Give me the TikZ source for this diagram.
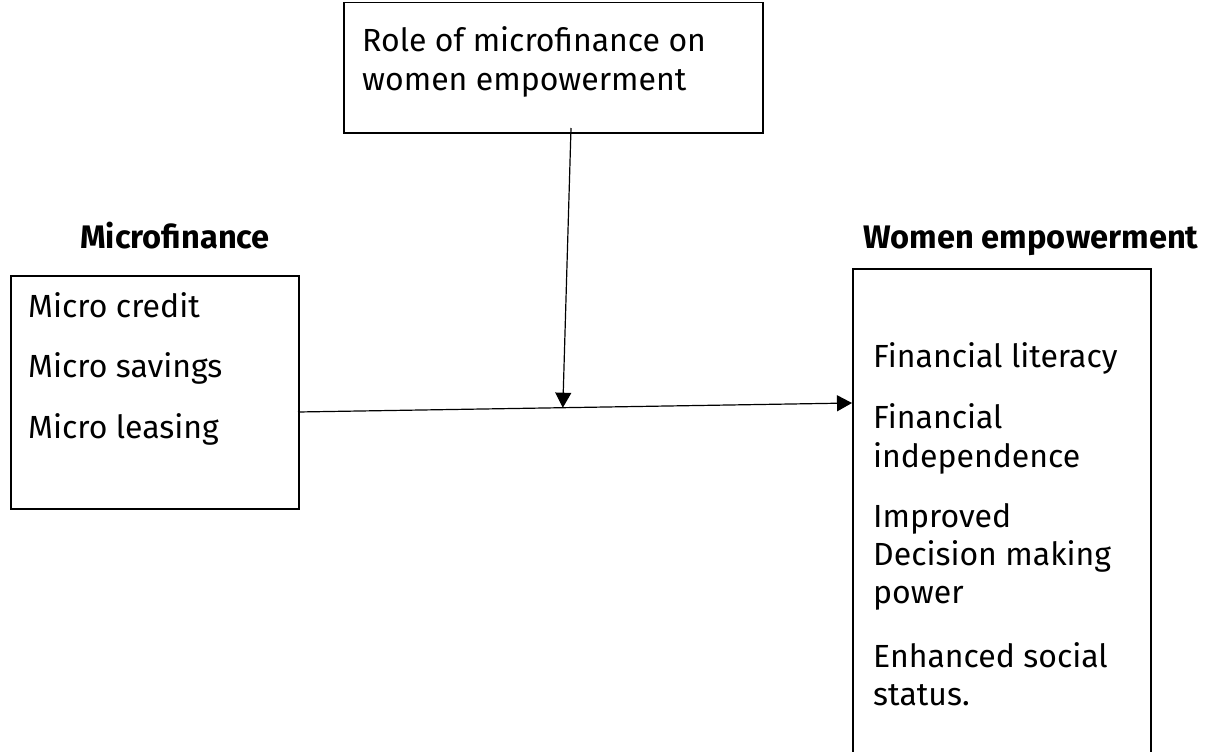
\documentclass[tikz,border=0pt]{standalone}
\usepackage{fontspec}
\setmainfont{Fira Sans}
\usepackage{tikz}
\usetikzlibrary{arrows.meta}

\begin{document}
\begin{tikzpicture}[x=1pt,y=-1pt,
    box/.style={draw, line width=1.5pt, anchor=north west, inner sep=0pt},
    item/.style={anchor=base west, inner sep=0pt, font=\fontsize{32}{32}\selectfont},
    head/.style={anchor=base, inner sep=0pt, font=\fontsize{32.6}{32.6}\selectfont\bfseries},
    link/.style={line width=1.2pt, -{Triangle[length=15pt,width=16pt]}}]
  \useasboundingbox (0,0) rectangle (1205,752);
  % boxes
  \node[box, minimum width=419pt, minimum height=130pt] (role) at (343,2) {};
  \node[box, minimum width=288pt, minimum height=233pt] (mf) at (10,275) {};
  \node[box, minimum width=298pt, minimum height=500pt] (we) at (852,268) {};
  % headings
  \node[head] (mfhead) at (175,248) {Microfinance};
  \node[head] (wehead) at (1031,248) {Women empowerment};
  % texts
  \node[item] (r1) at (362,52) {Role of microfinance on};
  \node[item] (r2) at (362,90) {women empowerment};
  \node[item] (m1) at (28,317) {Micro credit};
  \node[item] (m2) at (28,377) {Micro savings};
  \node[item] (m3) at (28,438) {Micro leasing};
  \node[item] (w1) at (873,367) {Financial literacy};
  \node[item] (w2) at (873,428) {Financial};
  \node[item] (w3) at (873,467) {independence};
  \node[item] (w4) at (873,527) {Improved};
  \node[item] (w5) at (873,565) {Decision making};
  \node[item] (w6) at (873,603) {power};
  \node[item] (w7) at (873,667) {Enhanced social};
  \node[item] (w8) at (873,705) {status.};
  % arrows
  \coordinate (src) at (298,412);
  \coordinate (dst) at (852,403);
  \coordinate (top) at (571,128);
  \draw[link] (src) -- node[coordinate, pos=0.478] (mid) {} (dst);
  \draw[link] (top) -- (mid);
\end{tikzpicture}
\end{document}
